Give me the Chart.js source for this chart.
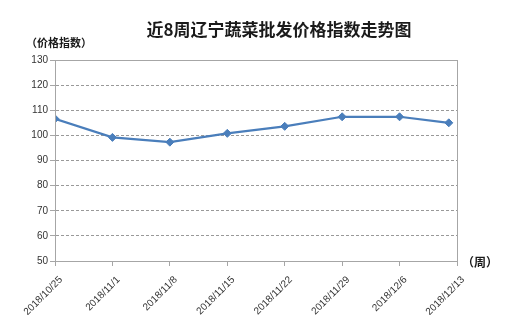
<!DOCTYPE html>
<html>
<head>
<meta charset="utf-8">
<script src="https://cdn.jsdelivr.net/npm/chart.js@4/dist/chart.umd.min.js"></script>
<style>
  html, body { margin: 0; padding: 0; background: #fff; }
  #wrap { position: relative; width: 513px; height: 315px; }
</style>
</head>
<body>
<div id="wrap"><canvas id="chart" width="513" height="315"></canvas></div>
<script>
'use strict';

/* ── Data ───────────────────────────────────────────────────────── */
const tickLabels = ['2018/10/25', '2018/11/1', '2018/11/8', '2018/11/15', '2018/11/22', '2018/11/29', '2018/12/6', '2018/12/13'];
const pointDates = ['2018/10/25', '2018/11/1', '2018/11/8', '2018/11/15', '2018/11/22', '2018/11/29', '2018/12/6', '2018/12/12'];
const indexValues = [106.6, 99.2, 97.3, 100.8, 103.6, 107.4, 107.4, 105.0];
const yTicks = [50, 60, 70, 80, 90, 100, 110, 120, 130];

const TITLE  = '近8周辽宁蔬菜批发价格指数走势图';
const Y_NAME = '（价格指数）';
const X_NAME = '（周）';

/* ── Helpers ────────────────────────────────────────────────────── */
const DAY = 24 * 3600 * 1000;
const toDate = s => { const [y, m, d] = s.split('/').map(Number); return Date.UTC(y, m - 1, d); };
const start = toDate(tickLabels[0]);
const dayOf = s => Math.round((toDate(s) - start) / DAY);

const points = pointDates.map((d, i) => ({ x: dayOf(d), y: indexValues[i] }));
const lastDay = dayOf(tickLabels[tickLabels.length - 1]);

const CJK = "'Noto Sans CJK SC', sans-serif";
const LINE = '#4a7ebb';
const AXIS = '#a6a6a6';

/* ── Extra text + plot frame ────────────────────────────────────── */
const decorPlugin = {
  id: 'decor',
  afterDraw(chart) {
    const { ctx, chartArea: a } = chart;
    ctx.save();
    ctx.strokeStyle = AXIS;
    ctx.lineWidth = 1;
    ctx.strokeRect(Math.round(a.left) + 0.5, Math.round(a.top) + 0.5,
                   Math.round(a.right - a.left), Math.round(a.bottom - a.top));

    ctx.fillStyle = '#1a1a1a';
    ctx.textBaseline = 'middle';
    ctx.textAlign = 'center';
    ctx.font = `bold 17px ${CJK}`;
    ctx.fillText(TITLE, 279, 30);

    ctx.textAlign = 'left';
    ctx.font = `bold 11px ${CJK}`;
    ctx.fillText(Y_NAME, 26, 43);
    ctx.font = `bold 12px ${CJK}`;
    ctx.fillText(X_NAME, 462, 262);
    ctx.restore();
  }
};

/* ── Chart ──────────────────────────────────────────────────────── */
new Chart(document.getElementById('chart'), {
  type: 'line',
  data: {
    datasets: [{
      data: points,
      borderColor: LINE,
      backgroundColor: LINE,
      borderWidth: 2.2,
      pointStyle: 'rectRot',
      pointRadius: 4,
      pointBorderWidth: 1,
      tension: 0,
    }]
  },
  options: {
    responsive: false,
    animation: false,
    layout: { padding: { top: 60, right: 56, left: 0, bottom: 0 } },
    plugins: { legend: { display: false }, tooltip: { enabled: false } },
    scales: {
      x: {
        type: 'linear',
        min: 0,
        max: lastDay,
        afterFit: s => { s.height = 54; },
        afterBuildTicks: s => { s.ticks = tickLabels.map(t => ({ value: dayOf(t) })); },
        grid: { drawOnChartArea: false, drawTicks: true, tickLength: 5, color: AXIS },
        border: { color: AXIS },
        ticks: {
          autoSkip: false,
          minRotation: 45,
          maxRotation: 45,
          padding: 8,
          labelOffset: 6,
          color: '#333',
          font: { family: "'Liberation Sans', Arial, sans-serif", size: 10 },
          callback: (v, i) => tickLabels[i]
        }
      },
      y: {
        min: yTicks[0],
        max: yTicks[yTicks.length - 1],
        afterFit: s => { s.width = 55; },
        afterBuildTicks: s => { s.ticks = yTicks.map(v => ({ value: v })); },
        grid: { color: '#999', tickColor: AXIS, tickLength: 5, tickBorderDash: [] },
        border: { color: AXIS, dash: [3, 2] },
        ticks: {
          padding: 2,
          color: '#333',
          font: { family: "'Liberation Sans', Arial, sans-serif", size: 10 }
        }
      }
    }
  },
  plugins: [decorPlugin]
});
</script>
</body>
</html>
